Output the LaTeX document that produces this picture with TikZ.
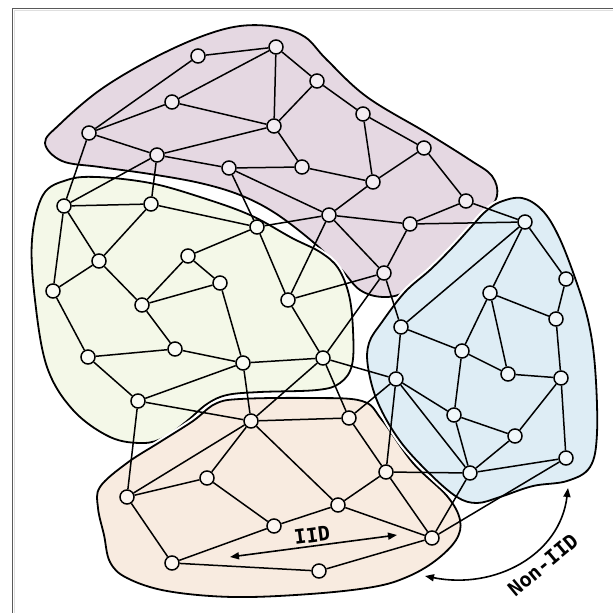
\documentclass[tikz,border=0pt]{standalone}
\usepackage{fontspec}
\setmonofont{DejaVu Sans Mono}
\usepackage{tikz}
\usetikzlibrary{arrows.meta, calc, positioning}
\usepackage{xcolor}
\definecolor{purpfill}{RGB}{229,216,226}
\definecolor{grnfill}{RGB}{244,248,232}
\definecolor{orgfill}{RGB}{248,235,224}
\definecolor{bluefill}{RGB}{222,237,245}

\begin{document}
\begin{tikzpicture}[x=1pt, y=-1pt,
    vtx/.style={circle, draw, line width=1.5pt, minimum size=14pt, inner sep=0pt},
    link/.style={line width=1.5pt},
    blob/.style={draw, line width=1.8pt, preaction={draw=white, line width=6pt}},
    arr/.style={{Triangle[length=9pt,width=7pt]}-{Triangle[length=9pt,width=7pt]}, line width=1.6pt},
    lbl/.style={font=\ttfamily\bfseries\fontsize{20}{22}\selectfont, inner sep=1pt}]
    \useasboundingbox (0,0) rectangle (613,613);

    % 外框
    \draw[gray!25, line width=1pt] (14,620) -- (14,10) -- (620,10);
    \draw[gray!70!black, line width=1.2pt] (12.5,620) -- (12.5,8.5) -- (620,8.5);

    % 簇的区域
    \filldraw[blob, fill=purpfill] plot[smooth cycle, tension=0.6] coordinates {
        (45,143) (60,124) (100,90) (150,60) (200,37) (240,26) (277,27) (305,37)
        (327,60) (367,97) (427,133) (470,160) (492,176) (497,196) (484,215)
        (455,245) (430,272) (405,292) (383,297) (360,290) (340,268) (313,242)
        (275,213) (240,195) (200,183) (150,174) (100,167) (62,161)};
    \filldraw[blob, fill=grnfill] plot[smooth cycle, tension=0.6] coordinates {
        (32,240) (43,195) (67,180) (97,177) (150,183) (200,197) (250,215)
        (292,238) (320,252) (338,268) (349,295) (353,330) (352,365) (340,383)
        (317,390) (260,392) (227,395) (207,404) (187,421) (165,437) (143,443)
        (110,437) (73,410) (47,367) (35,300)};
    \filldraw[blob, fill=orgfill] plot[smooth cycle, tension=0.6] coordinates {
        (100,487) (127,463) (160,442) (193,421) (215,404) (240,399) (310,398)
        (362,401) (382,420) (413,463) (447,496) (460,520) (456,540) (435,561)
        (407,577) (373,587) (310,594) (233,597) (167,591) (127,578) (110,562)
        (104,535) (98,508)};
    \filldraw[blob, fill=bluefill] plot[smooth cycle, tension=0.6] coordinates {
        (500,202) (522,198) (542,210) (558,235) (574,275) (588,320) (595,367)
        (597,433) (590,467) (567,481) (533,486) (500,497) (477,503) (457,497)
        (430,474) (400,441) (378,403) (368,367) (369,343) (382,322) (405,292)
        (430,270) (452,248) (472,226) (485,212)};

    % 紫色簇
    \foreach \n/\x/\y in {1/198/56, 2/276/47, 3/172/102, 4/89/133, 5/274/126,
        6/157/155, 7/229/168, 8/302/167, 9/317/81, 10/363/114, 11/424/148,
        12/373/182, 13/466/201, 14/329/215, 15/410/224, 16/384/273}
        \node[vtx, fill=purpfill!45!white] (p\n) at (\x,\y) {};

    % 绿色簇
    \foreach \n/\x/\y in {1/64/206, 2/151/204, 3/257/227, 4/99/261, 5/188/256,
        6/53/291, 7/220/283, 8/142/305, 9/288/300, 10/175/349, 11/88/357,
        12/138/401, 13/243/363, 14/323/358}
        \node[vtx, fill=grnfill!45!white] (g\n) at (\x,\y) {};

    % 橙色簇
    \foreach \n/\x/\y in {1/251/421, 2/349/418, 3/207/478, 4/127/497, 5/274/526,
        6/172/563, 7/386/472, 8/338/505, 9/432/538, 10/319/571}
        \node[vtx, fill=orgfill!45!white] (o\n) at (\x,\y) {};

    % 蓝色簇
    \foreach \n/\x/\y in {1/525/222, 2/566/279, 3/490/293, 4/556/319, 5/462/351,
        6/508/374, 7/561/378, 8/401/327, 9/396/379, 10/454/415, 11/515/436,
        12/566/458, 13/470/473}
        \node[vtx, fill=bluefill!45!white] (b\n) at (\x,\y) {};

    % 连边
    \foreach \a/\b in {p1/p2, p1/p4, p2/p3, p2/p5, p2/p9, p3/p4, p3/p5, p4/p6,
        p5/p6, p6/p7, p5/p8, p5/p9, p7/p8, p7/p14, p8/p12, p9/p10, p10/p11,
        p10/p12, p11/p12, p11/p13, p12/p14, p13/p15, p14/p15, p14/p16, p15/p16,
        p4/g1, p6/g1, p6/g2, p7/g3, p14/g3, p14/g9, p16/g9, p16/g14, p16/b8,
        p13/b1, p15/b1,
        g1/g2, g1/g4, g1/g6, g2/g3, g2/g4, g3/g5, g3/g9, g4/g6, g4/g8, g5/g7,
        g5/g8, g7/g8, g7/g13, g8/g10, g6/g11, g10/g11, g11/g12, g10/g13,
        g12/g13, g9/g14, g13/g14,
        g12/o1, g12/o4, g13/o1, g14/o1, g14/o2, g14/b9,
        o1/o2, o1/o3, o1/o4, o1/o8, o3/o4, o3/o5, o4/o6, o5/o6, o6/o10, o5/o8,
        o8/o9, o7/o8, o7/o9, o2/o7, o9/o10,
        o7/b9, o7/b13, o9/b13, o9/b12, o2/b9,
        b1/b2, b1/b3, b1/b8, b2/b4, b3/b4, b3/b5, b3/b6, b4/b7, b5/b6, b6/b7,
        b5/b8, b5/b10, b7/b11, b7/b12, b8/b9, b9/b10, b9/b13, b10/b11,
        b10/b13, b11/b13, b12/b13}
        \draw[link] (\a) -- (\b);

    % 标注箭头
    \coordinate (iidl) at (230,557);
    \coordinate (iidr) at (397,535);
    \draw[arr] (iidl) -- (iidr) node[lbl, midway, above=2pt, sloped] (iid) {IID};

    \coordinate (nidl) at (425,576);
    \coordinate (nidr) at (568,488);
    \draw[arr] (nidl) .. controls (495,590) and (560,555) .. (nidr);
    \node[lbl, rotate=40] (noniid) at (543,565) {Non-IID};
\end{tikzpicture}
\end{document}
